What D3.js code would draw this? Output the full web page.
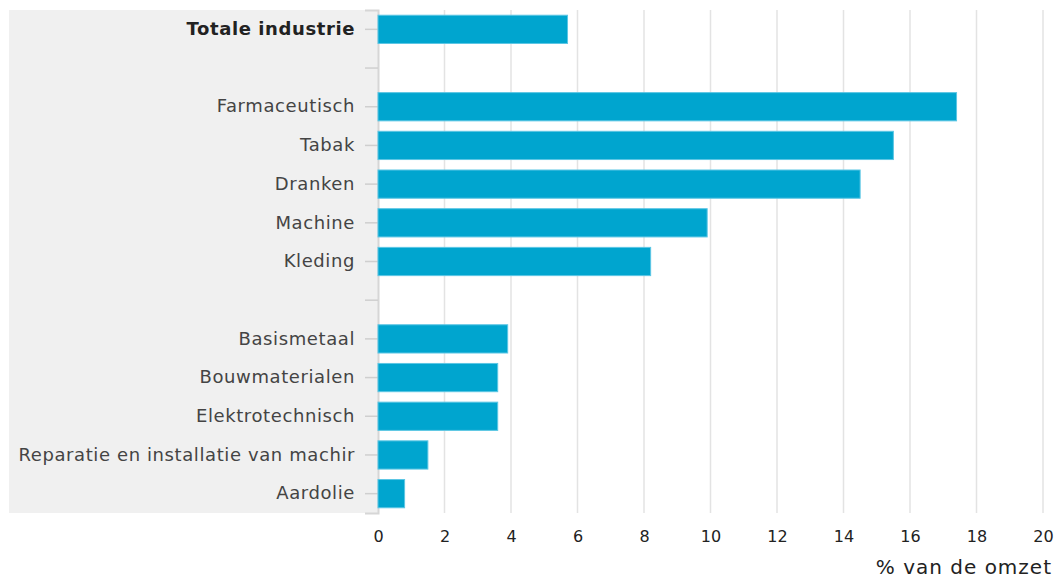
<!DOCTYPE html>
<html>
<head>
<meta charset="utf-8">
<script src="https://cdn.jsdelivr.net/npm/d3@7"></script>
<style>
  body { margin: 0; background: #fff; }
  text { font-family: "DejaVu Sans", Verdana, sans-serif; }
</style>
</head>
<body>
<script>
// rows from top to bottom, empty strings are spacer rows
let categories = ['Totale industrie', '', 'Farmaceutisch', 'Tabak', 'Dranken', 'Machine', 'Kleding', ' ',
  'Basismetaal', 'Bouwmaterialen', 'Elektrotechnisch', 'Reparatie en installatie van machir', 'Aardolie']
let values = [5.7, null, 17.4, 15.5, 14.5, 9.9, 8.2, null, 3.9, 3.6, 3.6, 1.5, 0.8]
let xTicks = [0, 2, 4, 6, 8, 10, 12, 14, 16, 18, 20]
let axisTitle = '% van de omzet'

let data = categories.map((c, i) => ({ id: i, name: c, value: values[i] }))

let
  width = 1057,
  height = 578;

let margin = { top: 10, bottom: 65, left: 378, right: 14 }

let svg = d3.select('body')
            .append('svg')
            .attr('width', width)
            .attr('height', height)

let xScale = d3.scaleLinear()
              .domain([0, 20])
              .range([margin.left, width - margin.right])

let yScale = d3.scaleBand()
              .domain(data.map(d => d.id))
              .range([margin.top, height - margin.bottom])
              .paddingInner(0.27)
              .paddingOuter(0.135)

// grey label panel
svg.append('rect')
   .attr('x', 9)
   .attr('y', margin.top)
   .attr('width', margin.left - 9)
   .attr('height', height - margin.bottom - margin.top)
   .attr('fill', '#f0f0f0')

// vertical grid
svg.append('g')
   .selectAll('line')
   .data(xTicks.slice(1))
   .enter()
   .append('line')
   .attr('x1', d => xScale(d))
   .attr('x2', d => xScale(d))
   .attr('y1', margin.top)
   .attr('y2', height - margin.bottom)
   .attr('stroke', '#e3e3e3')
   .attr('stroke-width', 1.5)

// y axis
let yAxis = svg.append('g')
   .attr('transform', `translate(${margin.left}, 0)`)
   .call(d3.axisLeft(yScale).tickSize(13).tickPadding(10).tickFormat(i => categories[i]))
yAxis.select('.domain').attr('stroke', '#d6d6d6').attr('stroke-width', 2)
yAxis.selectAll('.tick line').attr('stroke', '#cfcfcf').attr('stroke-width', 1.5)
yAxis.selectAll('.tick text')
     .attr('font-size', 18)
     .attr('fill', (d, i) => i === 0 ? '#222' : '#444')
     .attr('font-weight', (d, i) => i === 0 ? 'bold' : 'normal')
     .attr('letter-spacing', 0.6)

// x axis
let xAxis = svg.append('g')
   .attr('transform', `translate(0, ${height - margin.bottom})`)
   .call(d3.axisBottom(xScale).tickValues(xTicks).tickSize(0).tickPadding(18))
xAxis.select('.domain').remove()
xAxis.selectAll('.tick text').attr('font-size', 16).attr('fill', '#222')

// bars
svg.append('g')
   .selectAll('rect')
   .data(data.filter(d => d.value != null))
   .enter()
   .append('rect')
   .attr('x', xScale(0))
   .attr('y', d => yScale(d.id))
   .attr('width', d => xScale(d.value) - xScale(0))
   .attr('height', yScale.bandwidth())
   .attr('fill', '#00a5cf')
   .attr('stroke', '#5cc6e4')
   .attr('stroke-width', 1)

svg.append('text')
   .attr('x', width - 5)
   .attr('y', height - 4)
   .attr('text-anchor', 'end')
   .attr('font-size', 20)
   .attr('fill', '#222')
   .attr('letter-spacing', 1)
   .text(axisTitle)
</script>
</body>
</html>
